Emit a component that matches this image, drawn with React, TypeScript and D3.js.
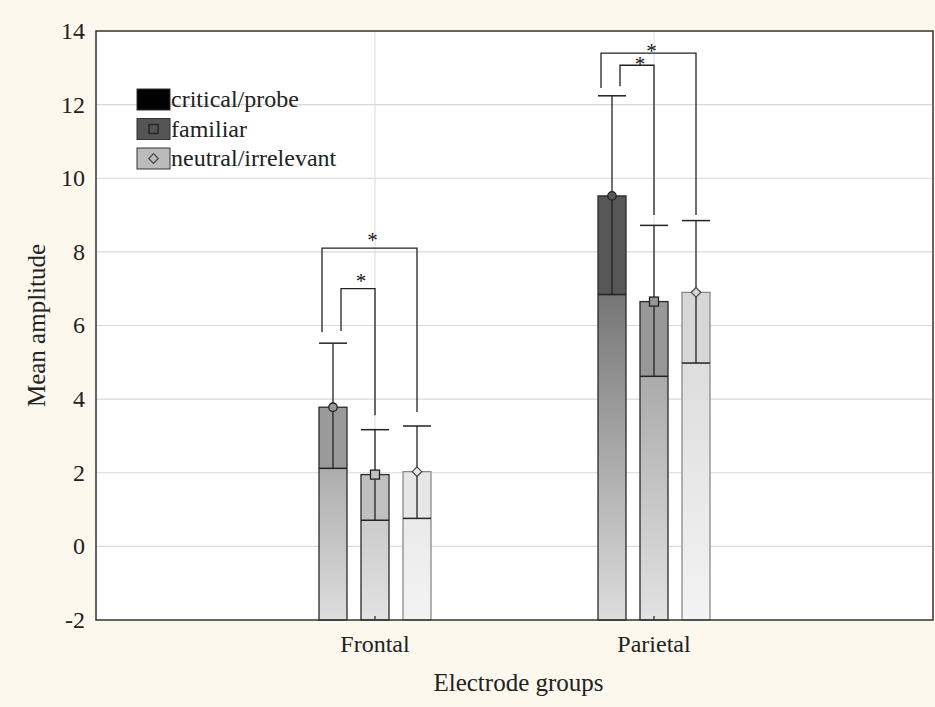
import React from "react";
import * as d3 from "d3";

// values
const groups = ["Frontal", "Parietal"];
const series = ["critical/probe", "familiar", "neutral/irrelevant"];
const yTicks = [-2, 0, 2, 4, 6, 8, 10, 12, 14];

const criticalMean = [3.78, 9.52];
const criticalLow = [2.12, 6.84];
const criticalHigh = [5.52, 12.24];
const familiarMean = [1.95, 6.65];
const familiarLow = [0.71, 4.62];
const familiarHigh = [3.17, 8.72];
const neutralMean = [2.03, 6.9];
const neutralLow = [0.76, 4.98];
const neutralHigh = [3.27, 8.85];

// significance brackets (critical vs other)
const bracketGroup = ["Frontal", "Frontal", "Parietal", "Parietal"];
const bracketTo = ["neutral/irrelevant", "familiar", "neutral/irrelevant", "familiar"];
const bracketTop = [8.1, 7.0, 13.4, 13.07];
const bracketStart = [5.82, 5.85, 12.45, 12.5];
const bracketEnd = [3.65, 3.56, 9.0, 9.0];
const bracketLabel = ["*", "*", "*", "*"];

// styling
const W = 935;
const H = 707;
const margin = { top: 31, right: 2, bottom: 87, left: 96 };
const font = "'Liberation Serif', 'Times New Roman', serif";
const fs = 24;
const seriesRamp: Record<string, [string, string]> = {
  "critical/probe": ["#dddddd", "#232323"],
  familiar: ["#e2e2e2", "#5a5a5a"],
  "neutral/irrelevant": ["#f3f3f3", "#c1c1c1"],
};
const seriesEdge: Record<string, string> = {
  "critical/probe": "#2a2a2a",
  familiar: "#2a2a2a",
  "neutral/irrelevant": "#8a8a8a",
};
const legendFill = ["#000000", "#555555", "#bbbbbb"];
const starLift = [12, 12, 6, 5];

const seriesData = [
  { name: series[0], mean: criticalMean, low: criticalLow, high: criticalHigh },
  { name: series[1], mean: familiarMean, low: familiarLow, high: familiarHigh },
  { name: series[2], mean: neutralMean, low: neutralLow, high: neutralHigh },
];

function Marker({ kind, cx, cy, fill }: { kind: number; cx: number; cy: number; fill: string }) {
  if (kind === 0) return <circle cx={cx} cy={cy} r={4.2} fill={fill} stroke="#222" strokeWidth={1.3} />;
  if (kind === 1)
    return <rect x={cx - 4.5} y={cy - 4.5} width={9} height={9} fill={fill} stroke="#222" strokeWidth={1.3} />;
  return (
    <path
      d={`M${cx},${cy - 4.8}L${cx + 4.8},${cy}L${cx},${cy + 4.8}L${cx - 4.8},${cy}Z`}
      fill={fill}
      stroke="#444"
      strokeWidth={1.2}
    />
  );
}

export default function App() {
  const x0 = margin.left;
  const x1 = W - margin.right;
  const yTop = margin.top;
  const yBot = H - margin.bottom;

  const y = d3.scaleLinear().domain([-2, 14]).range([yBot, yTop]);
  const x = d3.scalePoint<string>().domain(groups).range([x0, x1]).padding(1);
  const xs = d3.scaleBand<string>().domain(series).range([-56, 56]).paddingInner(1 / 3);
  const bw = xs.bandwidth();

  const colour = (s: string) =>
    d3.scaleLinear<string>().domain([-2, 14]).range(seriesRamp[s]).interpolate(d3.interpolateRgb);

  const barLeft = (g: string, s: string) => (x(g) as number) + (xs(s) as number);
  const barMid = (g: string, s: string) => barLeft(g, s) + bw / 2;

  const ink = "#222";

  return (
    <svg width={W} height={H} style={{ position: "absolute", left: 0, top: 0 }} fontFamily={font}>
      <defs>
        {seriesData.map((sd, si) =>
          groups.map((g, gi) => {
            const c = colour(sd.name);
            return (
              <linearGradient
                key={`g${si}${gi}`}
                id={`grad-${si}-${gi}`}
                gradientUnits="userSpaceOnUse"
                x1={0}
                x2={0}
                y1={y(-2)}
                y2={y(sd.low[gi])}
              >
                <stop offset="0" stopColor={c(-2)} />
                <stop offset="1" stopColor={c(sd.low[gi])} />
              </linearGradient>
            );
          })
        )}
      </defs>

      <rect x={0} y={0} width={W} height={H} fill="#fcf8ee" />
      <rect x={x0} y={yTop} width={x1 - x0} height={yBot - yTop} fill="#ffffff" />

      {/* grid */}
      {yTicks
        .filter((t) => t > -2 && t < 14)
        .map((t) => (
          <line key={`h${t}`} x1={x0} x2={x1} y1={y(t)} y2={y(t)} stroke="#d9d9d9" strokeWidth={1.2} />
        ))}
      {groups.map((g) => (
        <line key={`v${g}`} x1={x(g)} x2={x(g)} y1={yTop} y2={yBot} stroke="#dcdcdc" strokeWidth={1} />
      ))}

      {/* bars */}
      {seriesData.map((sd, si) =>
        groups.map((g, gi) => {
          const c = colour(sd.name);
          const bx = barLeft(g, sd.name);
          const mx = barMid(g, sd.name);
          return (
            <g key={`b${si}${gi}`}>
              <rect
                x={bx}
                y={y(sd.low[gi])}
                width={bw}
                height={y(-2) - y(sd.low[gi])}
                fill={`url(#grad-${si}-${gi})`}
              />
              <rect
                x={bx}
                y={y(sd.mean[gi])}
                width={bw}
                height={y(sd.low[gi]) - y(sd.mean[gi])}
                fill={c(sd.mean[gi])}
              />
              <rect
                x={bx}
                y={y(sd.mean[gi])}
                width={bw}
                height={y(-2) - y(sd.mean[gi])}
                fill="none"
                stroke={seriesEdge[sd.name]}
                strokeWidth={1.3}
              />
              <line x1={mx} x2={mx} y1={y(sd.high[gi])} y2={y(sd.low[gi])} stroke={ink} strokeWidth={1.3} />
              <line x1={bx} x2={bx + bw} y1={y(sd.high[gi])} y2={y(sd.high[gi])} stroke={ink} strokeWidth={1.5} />
              <line x1={bx} x2={bx + bw} y1={y(sd.low[gi])} y2={y(sd.low[gi])} stroke={ink} strokeWidth={1.5} />
              <Marker kind={si} cx={mx} cy={y(sd.mean[gi])} fill={c(sd.mean[gi])} />
            </g>
          );
        })
      )}

      {/* significance brackets */}
      {bracketGroup.map((g, i) => {
        const outer = bracketTo[i] === series[2];
        const lx = outer ? barLeft(g, series[0]) + 3 : barMid(g, series[0]) + 8;
        const rx = barMid(g, bracketTo[i]);
        const ty = y(bracketTop[i]);
        return (
          <g key={`br${i}`}>
            <path
              d={`M${lx},${y(bracketStart[i])}V${ty}H${rx}V${y(bracketEnd[i])}`}
              fill="none"
              stroke={ink}
              strokeWidth={1.3}
            />
            <text
              x={(lx + rx) / 2 + 3}
              y={ty - starLift[i] + 11}
              textAnchor="middle"
              fontSize={21}
              fill="#111"
            >
              {bracketLabel[i]}
            </text>
          </g>
        );
      })}

      {/* frame */}
      <rect x={x0} y={yTop} width={x1 - x0} height={yBot - yTop} fill="none" stroke="#333" strokeWidth={1.5} />
      {groups.map((g) => (
        <line key={`xt${g}`} x1={x(g)} x2={x(g)} y1={yBot} y2={yBot - 4} stroke="#333" strokeWidth={1.3} />
      ))}

      {/* y ticks */}
      {yTicks.map((t) => (
        <text key={`yl${t}`} x={x0 - 11} y={y(t)} dy="0.33em" textAnchor="end" fontSize={fs} fill="#222">
          {t}
        </text>
      ))}
      {/* x ticks */}
      {groups.map((g) => (
        <text key={`xl${g}`} x={x(g)} y={yBot + 32} textAnchor="middle" fontSize={fs} fill="#222">
          {g}
        </text>
      ))}

      <text x={(x0 + x1) / 2 + 4} y={yBot + 71} textAnchor="middle" fontSize={fs + 1} fill="#222">
        Electrode groups
      </text>
      <text
        transform={`translate(45,${(yTop + yBot) / 2}) rotate(-90)`}
        textAnchor="middle"
        fontSize={fs + 1}
        fill="#222"
      >
        Mean amplitude
      </text>

      {/* legend */}
      {series.map((s, i) => {
        const ly = 89 + i * 29.5;
        return (
          <g key={`lg${i}`}>
            <rect x={137} y={ly} width={33} height={21} fill={legendFill[i]} stroke="#333" strokeWidth={1} />
            {i > 0 && <Marker kind={i} cx={153.5} cy={ly + 10.5} fill={legendFill[i]} />}
            <text x={171} y={ly + 18} fontSize={fs} fill="#222">
              {s}
            </text>
          </g>
        );
      })}
    </svg>
  );
}
